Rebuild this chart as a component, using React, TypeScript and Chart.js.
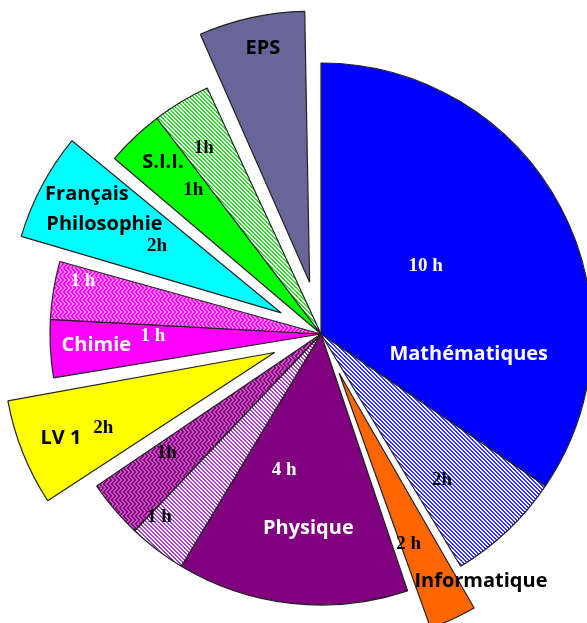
import React, { useEffect, useRef } from 'react';
import { Chart, registerables } from 'chart.js';

Chart.register(...registerables);

// ---- data ----
const subjects = [
  'Mathématiques', 'Mathématiques (2h)', 'Informatique', 'Physique', 'Physique (1h)',
  'Physique (1h bis)', 'LV 1', 'Chimie', 'Chimie (1h)', 'Français Philosophie',
  'S.I.I.', 'S.I.I. (1h)', 'EPS',
];
const hours = [10, 2, 1, 4, 1, 1, 2, 1, 1, 2, 1, 1, 2];

// ---- styles ----
const RADIUS = 271;
const explodeOffsets = [0, 0, 172, 0, 0, 0, 200, 0, 0, 180, 0, 0, 212];

function stripePattern(bg: string, fg: string, size: number, w: number) {
  const c = document.createElement('canvas');
  c.width = size; c.height = size;
  const g = c.getContext('2d')!;
  g.fillStyle = bg; g.fillRect(0, 0, size, size);
  g.fillStyle = fg;
  for (let y = 0; y < size; y++) {
    for (let k = 0; k < w; k++) g.fillRect((y + k) % size, y, 1, 1);
  }
  return g.createPattern(c, 'repeat')!;
}

function zigzagPattern(bg: string, fg: string) {
  const c = document.createElement('canvas');
  c.width = 8; c.height = 8;
  const g = c.getContext('2d')!;
  g.fillStyle = bg; g.fillRect(0, 0, 8, 8);
  g.fillStyle = fg;
  const tri = [0, 1, 2, 3, 3, 2, 1, 0];
  for (let y = 0; y < 8; y++) {
    for (let x = 0; x < 8; x++) {
      if ((x + tri[y]) % 4 < 2) g.fillRect(x, y, 1, 1);
    }
  }
  return g.createPattern(c, 'repeat')!;
}

type Lbl = { s: number; t: string; f: 'sans' | 'serif'; c: string; r: number; a: number };
const sliceLabels: Lbl[] = [
  { s: 0, t: '10 h', f: 'serif', c: '#ffffff', r: 0.46, a: 0.46 },
  { s: 0, t: 'Mathématiques', f: 'sans', c: '#ffffff', r: 0.55, a: 0.787 },
  { s: 1, t: '2h', f: 'serif', c: '#000000', r: 0.70, a: 0.655 },
  { s: 2, t: '2 h', f: 'serif', c: '#000000', r: 0.68, a: 0.71 },
  { s: 2, t: 'Informatique', f: 'sans', c: '#000000', r: 0.93, a: -0.26 },
  { s: 3, t: '4 h', f: 'serif', c: '#ffffff', r: 0.52, a: 0.68 },
  { s: 3, t: 'Physique', f: 'sans', c: '#ffffff', r: 0.72, a: 0.45 },
  { s: 4, t: '1 h', f: 'serif', c: '#000000', r: 0.90, a: 0.84 },
  { s: 5, t: '1h', f: 'serif', c: '#000000', r: 0.72, a: 0.71 },
  { s: 6, t: 'LV 1', f: 'sans', c: '#000000', r: 0.85, a: 0.49 },
  { s: 6, t: '2h', f: 'serif', c: '#000000', r: 0.69, a: 0.42 },
  { s: 7, t: 'Chimie', f: 'sans', c: '#ffffff', r: 0.83, a: 0.52 },
  { s: 7, t: '1 h', f: 'serif', c: '#ffffff', r: 0.62, a: 0.69 },
  { s: 8, t: '1 h', f: 'serif', c: '#ffffff', r: 0.90, a: 0.75 },
  { s: 9, t: 'Français', f: 'sans', c: '#000000', r: 0.84, a: 0.64 },
  { s: 9, t: 'Philosophie', f: 'sans', c: '#000000', r: 0.73, a: 0.45 },
  { s: 9, t: '2h', f: 'serif', c: '#000000', r: 0.52, a: 0.51 },
  { s: 10, t: 'S.I.I.', f: 'sans', c: '#000000', r: 0.86, a: 0.56 },
  { s: 10, t: '1h', f: 'serif', c: '#000000', r: 0.71, a: 0.65 },
  { s: 11, t: '1h', f: 'serif', c: '#000000', r: 0.81, a: 0.40 },
  { s: 12, t: 'EPS', f: 'sans', c: '#000000', r: 0.88, a: 0.545 },
];

const labelPlugin = {
  id: 'sliceLabels',
  beforeDatasetsDraw(chart: any) {
    const meta = chart.getDatasetMeta(0);
    meta.data.forEach((arc: any) => {
      const off = (arc.options.offset || 0) / 4;
      const circ = arc.endAngle - arc.startAngle;
      const fix = 1 - Math.sin(Math.min(Math.PI, circ));
      arc.outerRadius = RADIUS - off * fix;
    });
  },
  afterDatasetsDraw(chart: any) {
    const meta = chart.getDatasetMeta(0);
    const ctx = chart.ctx as CanvasRenderingContext2D;
    ctx.save();
    ctx.textAlign = 'center';
    ctx.textBaseline = 'middle';
    sliceLabels.forEach((l) => {
      const arc: any = meta.data[l.s];
      const off = (arc.options.offset || 0) / 4;
      const mid = (arc.startAngle + arc.endAngle) / 2;
      const cx = arc.x + Math.cos(mid) * off;
      const cy = arc.y + Math.sin(mid) * off;
      const ang = arc.startAngle + l.a * (arc.endAngle - arc.startAngle);
      const r = l.r * RADIUS;
      ctx.font = l.f === 'sans' ? 'bold 20px "Open Sans", sans-serif' : 'bold 19px "Liberation Serif", serif';
      ctx.fillStyle = l.c;
      ctx.fillText(l.t, cx + Math.cos(ang) * r, cy + Math.sin(ang) * r);
    });
    ctx.restore();
  },
};

export default function App() {
  const ref = useRef<HTMLCanvasElement>(null);
  useEffect(() => {
    const colors: any[] = [
      '#0000FF',
      stripePattern('#FFFFFF', '#3333FF', 4, 2),
      '#FF6600',
      '#800080',
      stripePattern('#FFFFFF', '#A040C0', 4, 2),
      zigzagPattern('#800080', '#C850C0'),
      '#FFFF00',
      '#FF00FF',
      zigzagPattern('#FF00FF', '#FF80F0'),
      '#00FFFF',
      '#00FF00',
      stripePattern('#FFFFFF', '#33DD33', 4, 2),
      '#666699',
    ];
    const chart = new Chart(ref.current!, {
      type: 'pie',
      data: {
        labels: subjects,
        datasets: [{
          data: hours,
          backgroundColor: colors,
          borderColor: '#222222',
          borderWidth: 1.2,
          offset: explodeOffsets,
          hoverOffset: 0,
        } as any],
      },
      options: {
        responsive: false,
        animation: false,
        events: [],
        radius: RADIUS,
        layout: { padding: { left: 55, top: 45, right: 0, bottom: 0 } },
        plugins: { legend: { display: false }, tooltip: { enabled: false } },
      } as any,
      plugins: [labelPlugin],
    });
    return () => chart.destroy();
  }, []);
  return (
    <div style={{ position: 'fixed', left: 0, top: 0, width: 587, height: 623, background: '#fff' }}>
      <canvas ref={ref} width={587} height={623} style={{ display: 'block' }} />
    </div>
  );
}
